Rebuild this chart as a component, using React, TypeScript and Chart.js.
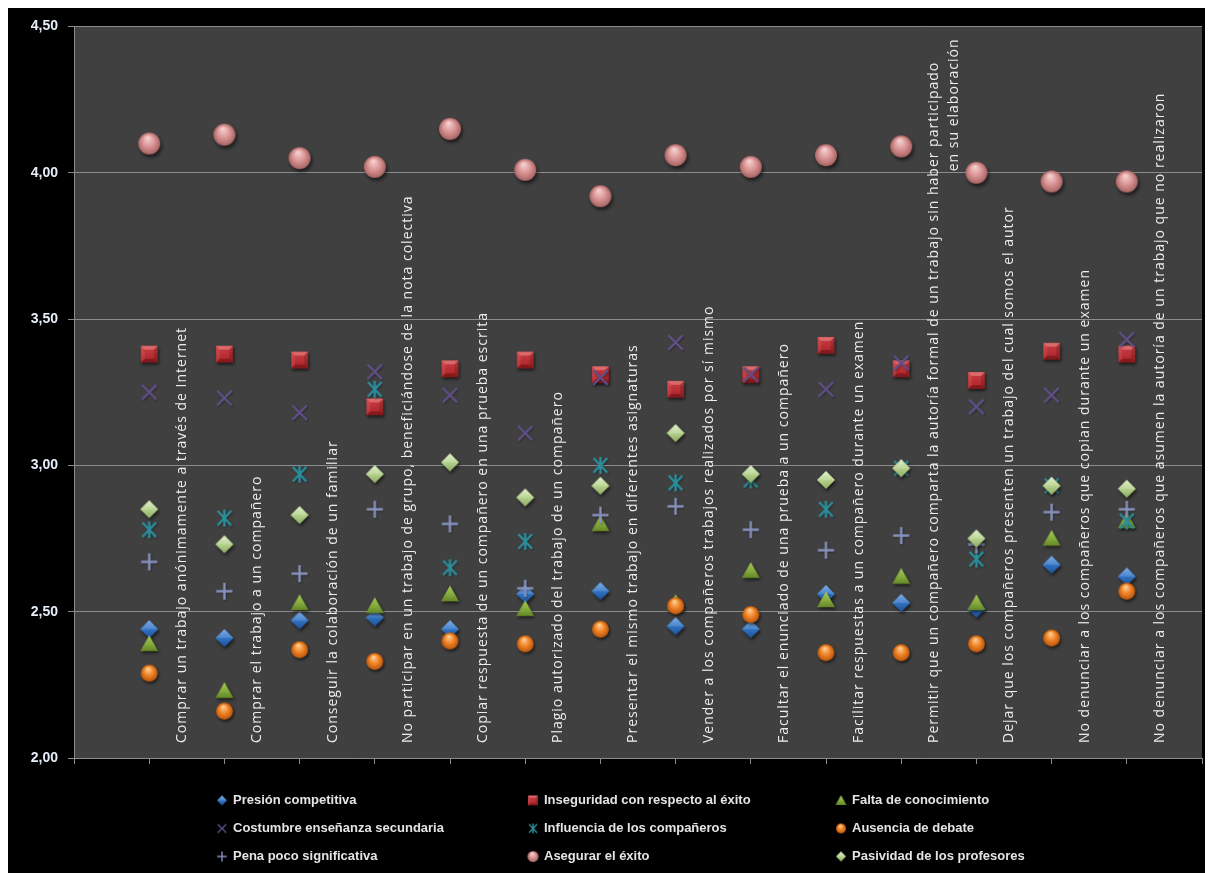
import React, { useEffect, useRef } from 'react';
import { Chart, registerables } from 'chart.js';

Chart.register(...registerables);

const categories: string[] = [
  'Comprar un trabajo anónimamente a través de Internet',
  'Comprar el trabajo a un compañero',
  'Conseguir la colaboración de un familiar',
  'No participar en un trabajo de grupo, beneficiándose de la nota colectiva',
  'Copiar respuesta de un compañero en una prueba escrita',
  'Plagio autorizado del trabajo de un compañero',
  'Presentar el mismo trabajo en diferentes asignaturas',
  'Vender a los compañeros trabajos realizados por sí mismo',
  'Facultar el enunciado de una prueba a un compañero',
  'Facilitar respuestas a un compañero durante un examen',
  'Permitir que un compañero comparta la autoría formal de un trabajo sin haber participado\nen su elaboración',
  'Dejar que los compañeros presenten un trabajo del cual somos el autor',
  'No denunciar a los compañeros que copian durante un examen',
  'No denunciar a los compañeros que asumen la autoría de un trabajo que no realizaron',
];

const presion = [2.44, 2.41, 2.47, 2.48, 2.44, 2.56, 2.57, 2.45, 2.44, 2.56, 2.53, 2.51, 2.66, 2.62];
const inseguridad = [3.38, 3.38, 3.36, 3.2, 3.33, 3.36, 3.31, 3.26, 3.31, 3.41, 3.33, 3.29, 3.39, 3.38];
const falta = [2.39, 2.23, 2.53, 2.52, 2.56, 2.51, 2.8, 2.53, 2.64, 2.54, 2.62, 2.53, 2.75, 2.81];
const costumbre = [3.25, 3.23, 3.18, 3.32, 3.24, 3.11, 3.3, 3.42, 3.31, 3.26, 3.35, 3.2, 3.24, 3.43];
const influencia = [2.78, 2.82, 2.97, 3.26, 2.65, 2.74, 3.0, 2.94, 2.95, 2.85, 2.99, 2.68, 2.93, 2.81];
const ausencia = [2.29, 2.16, 2.37, 2.33, 2.4, 2.39, 2.44, 2.52, 2.49, 2.36, 2.36, 2.39, 2.41, 2.57];
const pena = [2.67, 2.57, 2.63, 2.85, 2.8, 2.58, 2.83, 2.86, 2.78, 2.71, 2.76, 2.73, 2.84, 2.85];
const asegurar = [4.1, 4.13, 4.05, 4.02, 4.15, 4.01, 3.92, 4.06, 4.02, 4.06, 4.09, 4.0, 3.97, 3.97];
const pasividad = [2.85, 2.73, 2.83, 2.97, 3.01, 2.89, 2.93, 3.11, 2.97, 2.95, 2.99, 2.75, 2.93, 2.92];

const seriesNames = [
  'Presión competitiva',
  'Inseguridad con respecto al éxito',
  'Falta de conocimiento',
  'Costumbre enseñanza secundaria',
  'Influencia de los compañeros',
  'Ausencia de debate',
  'Pena poco significativa',
  'Asegurar el éxito',
  'Pasividad de los profesores',
];
const seriesValues = [presion, inseguridad, falta, costumbre, influencia, ausencia, pena, asegurar, pasividad];
const markerKinds = ['diamondBlue', 'square', 'triangle', 'xmark', 'asterisk', 'sphereOrange', 'plus', 'spherePink', 'diamondGreen'];
const markerSizes = [18, 17, 18, 17, 17, 17, 17, 22, 18];
const legendSizes = [10, 10, 11, 10, 10, 10, 10, 11, 10];

const yTicks = [2.0, 2.5, 3.0, 3.5, 4.0, 4.5];

function makeMarker(kind: string, s: number): HTMLCanvasElement {
  const pad = Math.ceil(s * 0.35) + 3;
  const size = Math.ceil(s) + pad * 2;
  const c = document.createElement('canvas');
  c.width = size;
  c.height = size;
  const ctx = c.getContext('2d')!;
  const cx = size / 2;
  const cy = size / 2;
  const r = s / 2;
  const shadow = () => {
    ctx.shadowColor = 'rgba(0,0,0,0.6)';
    ctx.shadowBlur = Math.max(2, s * 0.18);
    ctx.shadowOffsetX = s * 0.07;
    ctx.shadowOffsetY = s * 0.12;
  };
  const noShadow = () => {
    ctx.shadowColor = 'rgba(0,0,0,0)';
    ctx.shadowBlur = 0;
    ctx.shadowOffsetX = 0;
    ctx.shadowOffsetY = 0;
  };
  const sphere = (light: string, base: string, dark: string) => {
    shadow();
    const g = ctx.createRadialGradient(cx - r * 0.15, cy - r * 0.55, r * 0.05, cx, cy, r);
    g.addColorStop(0, light);
    g.addColorStop(0.55, base);
    g.addColorStop(1, dark);
    ctx.beginPath();
    ctx.arc(cx, cy, r, 0, Math.PI * 2);
    ctx.fillStyle = g;
    ctx.fill();
  };
  const diamond = (light: string, base: string, dark: string) => {
    shadow();
    const g = ctx.createLinearGradient(cx, cy - r, cx, cy + r);
    g.addColorStop(0, light);
    g.addColorStop(0.5, base);
    g.addColorStop(1, dark);
    ctx.beginPath();
    ctx.moveTo(cx, cy - r);
    ctx.lineTo(cx + r, cy);
    ctx.lineTo(cx, cy + r);
    ctx.lineTo(cx - r, cy);
    ctx.closePath();
    ctx.fillStyle = g;
    ctx.fill();
    noShadow();
    ctx.beginPath();
    ctx.moveTo(cx, cy - r);
    ctx.lineTo(cx + r, cy);
    ctx.lineTo(cx - r, cy);
    ctx.closePath();
    ctx.fillStyle = 'rgba(255,255,255,0.12)';
    ctx.fill();
  };
  const strokeLines = (color: string, lines: number[][]) => {
    ctx.shadowColor = 'rgba(0,0,0,0.35)';
    ctx.shadowBlur = 2;
    ctx.shadowOffsetX = 1;
    ctx.shadowOffsetY = 1;
    ctx.strokeStyle = color;
    ctx.lineWidth = Math.max(1.4, s * 0.14);
    ctx.lineCap = 'butt';
    ctx.beginPath();
    for (const l of lines) {
      ctx.moveTo(cx + l[0] * r, cy + l[1] * r);
      ctx.lineTo(cx + l[2] * r, cy + l[3] * r);
    }
    ctx.stroke();
  };
  switch (kind) {
    case 'diamondBlue':
      diamond('#6aa6ea', '#3273c4', '#1d4f92');
      break;
    case 'diamondGreen':
      diamond('#dcefc0', '#b5d28c', '#8eaa64');
      break;
    case 'sphereOrange':
      sphere('#ffd09a', '#ee8224', '#b9560e');
      break;
    case 'spherePink':
      sphere('#f6d2d2', '#d99393', '#a86464');
      break;
    case 'square': {
      shadow();
      const h = r * 0.98;
      ctx.fillStyle = '#c1272d';
      ctx.fillRect(cx - h, cy - h, 2 * h, 2 * h);
      noShadow();
      const facet = (pts: number[][], col: string) => {
        ctx.beginPath();
        ctx.moveTo(cx + pts[0][0] * h, cy + pts[0][1] * h);
        for (let i = 1; i < pts.length; i++) ctx.lineTo(cx + pts[i][0] * h, cy + pts[i][1] * h);
        ctx.closePath();
        ctx.fillStyle = col;
        ctx.fill();
      };
      const k = 0.55;
      facet([[-1, -1], [1, -1], [k, -k], [-k, -k]], 'rgba(255,150,150,0.45)');
      facet([[-1, -1], [-k, -k], [-k, k], [-1, 1]], 'rgba(255,120,120,0.22)');
      facet([[1, -1], [1, 1], [k, k], [k, -k]], 'rgba(80,0,0,0.25)');
      facet([[-1, 1], [-k, k], [k, k], [1, 1]], 'rgba(60,0,0,0.35)');
      const g = ctx.createLinearGradient(cx, cy - h, cx, cy + h);
      g.addColorStop(0, 'rgba(255,255,255,0.12)');
      g.addColorStop(1, 'rgba(0,0,0,0.1)');
      ctx.fillStyle = g;
      ctx.fillRect(cx - h, cy - h, 2 * h, 2 * h);
      break;
    }
    case 'triangle': {
      shadow();
      const g = ctx.createLinearGradient(cx, cy - r, cx, cy + r);
      g.addColorStop(0, '#a9cc58');
      g.addColorStop(0.55, '#82a83a');
      g.addColorStop(1, '#5c7c22');
      ctx.beginPath();
      ctx.moveTo(cx, cy - r * 0.95);
      ctx.lineTo(cx + r, cy + r * 0.8);
      ctx.lineTo(cx - r, cy + r * 0.8);
      ctx.closePath();
      ctx.fillStyle = g;
      ctx.fill();
      break;
    }
    case 'xmark':
      strokeLines('#60508a', [[-0.85, -0.85, 0.85, 0.85], [-0.85, 0.85, 0.85, -0.85]]);
      break;
    case 'asterisk':
      strokeLines('#2a8f9c', [[-0.8, -0.85, 0.8, 0.85], [-0.8, 0.85, 0.8, -0.85], [0, -1, 0, 1]]);
      break;
    case 'plus':
      strokeLines('#8791bc', [[-0.95, 0, 0.95, 0], [0, -1, 0, 1]]);
      break;
  }
  return c;
}

export default function App() {
  const ref = useRef<HTMLCanvasElement | null>(null);

  useEffect(() => {
    const canvas = ref.current;
    if (!canvas) return;
    const markers = markerKinds.map((k, i) => makeMarker(k, markerSizes[i]));
    const legendMarkers = markerKinds.map((k, i) => makeMarker(k, legendSizes[i]));

    const datasets = seriesNames.map((name, i) => ({
      label: name,
      data: seriesValues[i].map((v, j) => ({ x: j + 1, y: v })),
      pointStyle: markers[i],
      pointRadius: 9,
      pointHoverRadius: 9,
      showLine: false,
      order: seriesNames.length - i,
    }));

    const bgPlugin = {
      id: 'bg',
      beforeDraw(chart: any) {
        const { ctx, chartArea: a } = chart;
        ctx.save();
        ctx.fillStyle = '#000000';
        ctx.fillRect(0, 0, chart.width, chart.height);
        ctx.fillStyle = '#404040';
        ctx.fillRect(a.left, a.top, a.right - a.left, a.bottom - a.top);
        ctx.restore();
      },
    };

    const catLabelPlugin = {
      id: 'catLabels',
      beforeDatasetsDraw(chart: any) {
        const { ctx, chartArea: a } = chart;
        const xs = chart.scales.x;
        ctx.save();
        ctx.fillStyle = '#ececec';
        ctx.font = '14px "Open Sans"';
        (ctx as any).letterSpacing = '1px';
        ctx.textBaseline = 'middle';
        categories.forEach((cat, i) => {
          const x = xs.getPixelForValue(i + 1) + 33;
          const lines = cat.split('\n');
          ctx.save();
          ctx.translate(x, a.bottom - 15);
          ctx.rotate(-Math.PI / 2);
          ctx.textAlign = 'left';
          ctx.fillText(lines[0], 0, 0);
          ctx.restore();
          if (lines[1]) {
            ctx.save();
            ctx.translate(x + 20, a.top + 12);
            ctx.rotate(-Math.PI / 2);
            ctx.textAlign = 'right';
            ctx.fillText(lines[1], 0, 0);
            ctx.restore();
          }
        });
        ctx.restore();
      },
    };

    const legendPlugin = {
      id: 'customLegend',
      afterDraw(chart: any) {
        const { ctx, chartArea: a } = chart;
        const colX = [159, 470, 778];
        const rowY = [42.5, 70.5, 98.5];
        ctx.save();
        ctx.font = 'bold 13px "Liberation Sans"';
        ctx.fillStyle = '#e4e4e4';
        ctx.textBaseline = 'middle';
        ctx.textAlign = 'left';
        seriesNames.forEach((name, i) => {
          const tx = a.left + colX[i % 3];
          const ty = a.bottom + rowY[Math.floor(i / 3)];
          const m = legendMarkers[i];
          ctx.drawImage(m, tx - 11 - m.width / 2, ty - m.height / 2);
          ctx.fillText(name, tx, ty);
        });
        ctx.restore();
      },
    };

    const chart = new Chart(canvas, {
      type: 'scatter',
      data: { datasets },
      options: {
        animation: false,
        responsive: false,
        events: [],
        layout: { padding: { top: 10, right: 11, bottom: 105, left: 0 } },
        plugins: {
          legend: { display: false },
          tooltip: { enabled: false },
        },
        scales: {
          x: {
            type: 'linear',
            min: 0,
            max: categories.length + 1,
            afterFit: (s: any) => {
              s.height = 10;
            },
            ticks: { display: false, stepSize: 1 },
            grid: {
              display: true,
              drawOnChartArea: false,
              drawTicks: true,
              tickLength: 6,
              color: '#8c8c8c',
            },
            border: { display: true, color: '#8c8c8c' },
          },
          y: {
            type: 'linear',
            min: yTicks[0],
            max: yTicks[yTicks.length - 1],
            afterFit: (s: any) => {
              s.width = 66;
            },
            afterBuildTicks: (s: any) => {
              s.ticks = yTicks.map((v) => ({ value: v }));
            },
            ticks: {
              color: '#e6eefa',
              font: { family: '"Liberation Sans"', size: 14, weight: 'bold' },
              padding: 10,
              callback: (v: any) => Number(v).toFixed(2).replace('.', ','),
            },
            grid: { color: '#8c8c8c', tickLength: 6, lineWidth: 1 },
            border: { display: true, color: '#8c8c8c' },
          },
        },
      },
      plugins: [bgPlugin, catLabelPlugin, legendPlugin],
    } as any);

    return () => chart.destroy();
  }, []);

  return (
    <div style={{ width: 1205, height: 865 }}>
      <canvas ref={ref} width={1205} height={865} style={{ display: 'block', width: 1205, height: 865 }} />
    </div>
  );
}
